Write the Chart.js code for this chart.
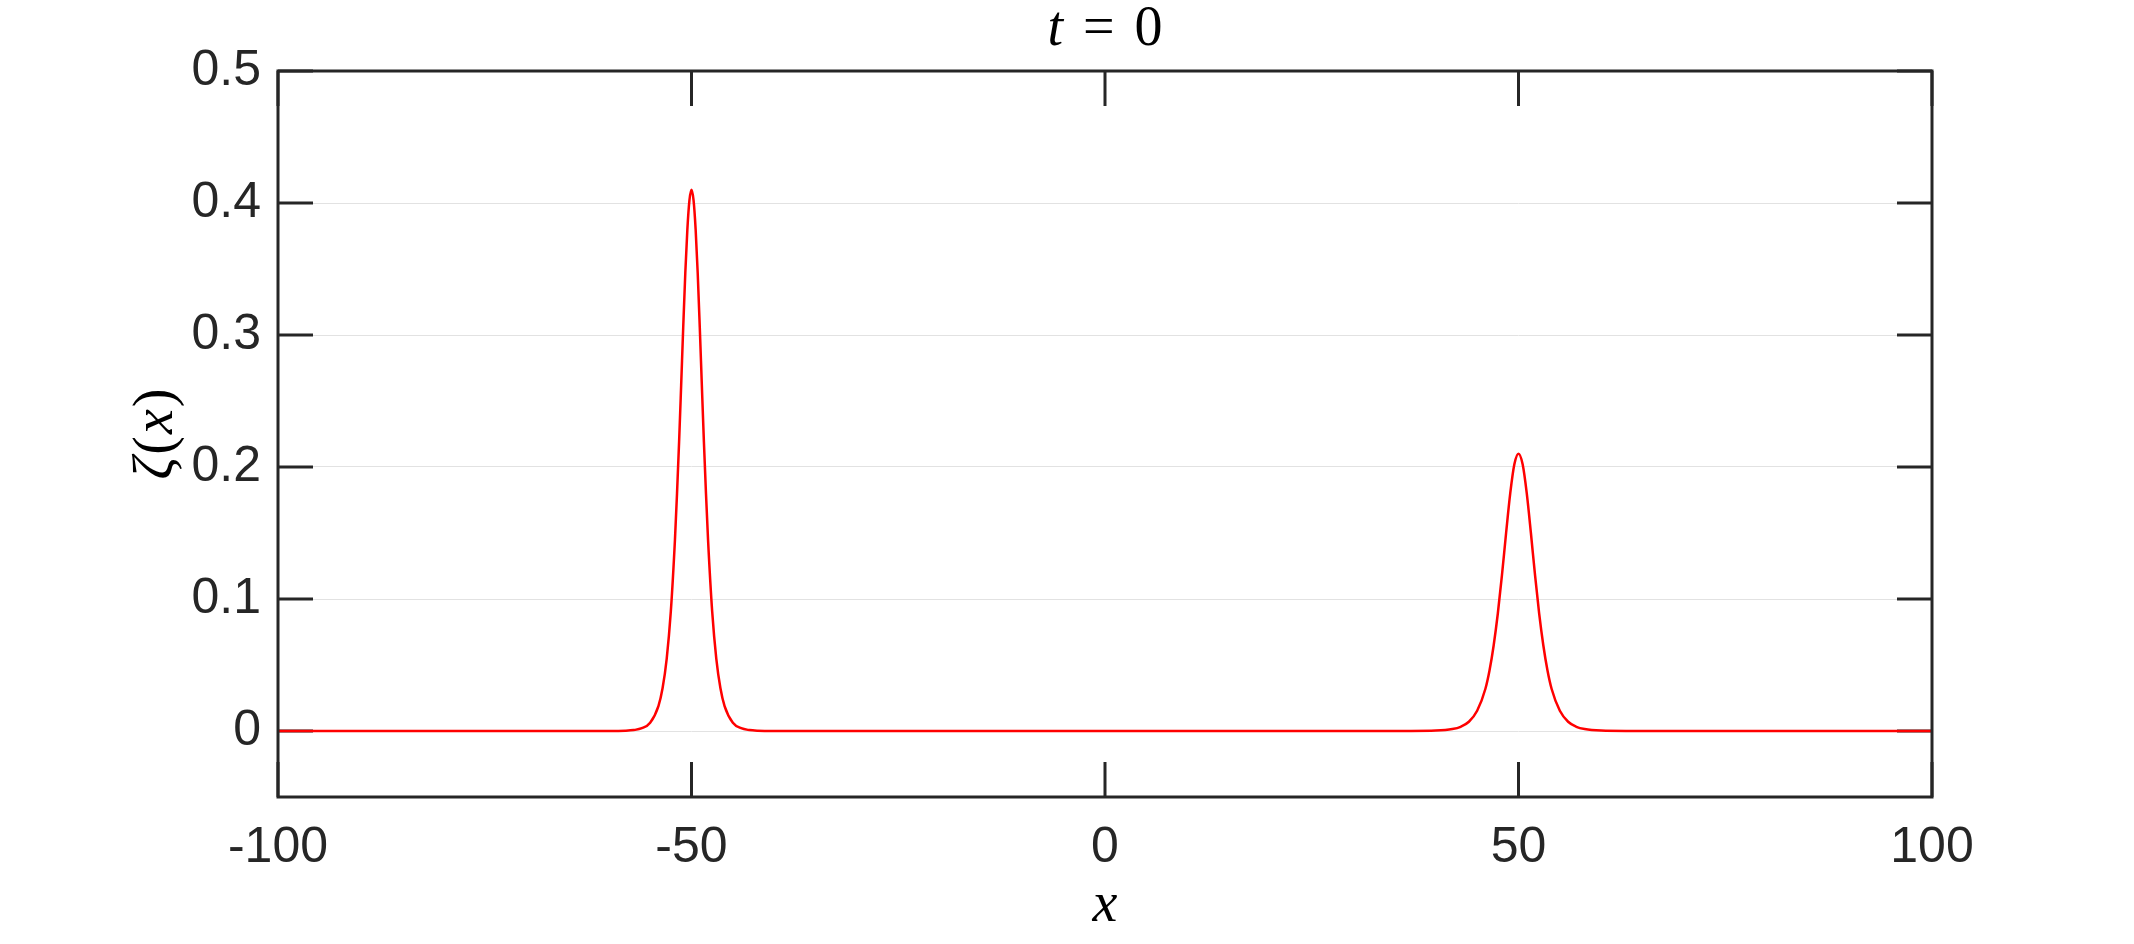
<!DOCTYPE html>
<html>
<head>
<meta charset="utf-8">
<script src="https://cdn.jsdelivr.net/npm/chart.js@4.4.1/dist/chart.umd.min.js"></script>
<style>
  html, body { margin: 0; padding: 0; background: #fff; }
</style>
</head>
<body>
<canvas id="chart" width="2134" height="944"></canvas>
<script>
// values (two solitary waves at x=-50 and x=50)
const xValues = [
  -100, -60, -58, -57, -56, -55, -54, -53.5, -53, -52.5, -52, -51.75, -51.5, -51.25,
  -51, -50.75, -50.5, -50.25, -50, -49.75, -49.5, -49.25, -49, -48.75, -48.5, -48.25,
  -48, -47.5, -47, -46.5, -46, -45, -44, -43, -42, -40,
  37, 40, 42, 43, 44, 45, 46, 46.5, 47, 47.5, 48, 48.5, 49, 49.5,
  50, 50.5, 51, 51.5, 52, 52.5, 53, 53.5, 54, 55, 56, 57, 58, 60, 63, 100
];
const zetaValues = [
  0, 0, 0.0002, 0.0007, 0.0021, 0.0063, 0.0189, 0.0324, 0.0547, 0.0906, 0.145, 0.180, 0.219, 0.262,
  0.306, 0.347, 0.380, 0.402, 0.410, 0.402, 0.380, 0.347, 0.306, 0.262, 0.219, 0.180,
  0.145, 0.0906, 0.0547, 0.0324, 0.0189, 0.0063, 0.0021, 0.0007, 0.0002, 0,
  0, 0.0003, 0.0015, 0.0032, 0.0070, 0.0153, 0.032, 0.046, 0.065, 0.089, 0.118, 0.150, 0.180, 0.202,
  0.210, 0.202, 0.180, 0.150, 0.118, 0.089, 0.065, 0.046, 0.032, 0.0153, 0.0070, 0.0032, 0.0015, 0.0003, 0, 0
];
const xTicks = [-100, -50, 0, 50, 100];
const yTicks = [0, 0.1, 0.2, 0.3, 0.4, 0.5];
// label pieces: [text, italic?]
const titleParts = [["t", true], ["=", false], ["0", false]];
const yLabelParts = [["ζ", true], ["(", false], ["x", true], [")", false]];
const xLabel = "x";

const axisColor = "#262626";
const tickLen = 35;
const serif = "'Liberation Serif', 'DejaVu Serif', serif";

function drawParts(ctx, parts, size, gap) {
  // draws the pieces centred on the current origin
  const fonts = parts.map((p) => (p[1] ? "italic " : "") + size + "px " + serif);
  const widths = parts.map((p, i) => { ctx.font = fonts[i]; return ctx.measureText(p[0]).width; });
  const total = widths.reduce((a, b) => a + b, 0) + gap * (parts.length - 1);
  let x = -total / 2;
  ctx.textBaseline = "alphabetic";
  ctx.textAlign = "left";
  parts.forEach((p, i) => {
    ctx.font = fonts[i];
    ctx.fillText(p[0], x, 0);
    x += widths[i] + gap;
  });
}

// matlab style box with inward ticks on all four sides, plus the mixed-style labels
const boxPlugin = {
  id: "box",
  beforeDatasetsDraw(chart) {
    const { ctx, chartArea: a, scales } = chart;
    ctx.save();
    ctx.strokeStyle = axisColor;
    ctx.lineWidth = 3;
    ctx.beginPath();
    xTicks.forEach((v) => {
      const px = scales.x.getPixelForValue(v);
      ctx.moveTo(px, a.top);
      ctx.lineTo(px, a.top + tickLen);
      ctx.moveTo(px, a.bottom);
      ctx.lineTo(px, a.bottom - tickLen);
    });
    yTicks.forEach((v) => {
      const py = scales.y.getPixelForValue(v);
      ctx.moveTo(a.left, py);
      ctx.lineTo(a.left + tickLen, py);
      ctx.moveTo(a.right, py);
      ctx.lineTo(a.right - tickLen, py);
    });
    ctx.stroke();
    ctx.restore();
  },
  afterDatasetsDraw(chart) {
    const { ctx, chartArea: a } = chart;
    ctx.save();
    ctx.strokeStyle = axisColor;
    ctx.lineWidth = 3;
    ctx.strokeRect(a.left, a.top, a.right - a.left, a.bottom - a.top);

    ctx.fillStyle = "#000";
    // title over the middle of the plot area
    ctx.save();
    ctx.translate((a.left + a.right) / 2, 45);
    drawParts(ctx, titleParts, 56, 20);
    ctx.restore();
    // rotated y label
    ctx.save();
    ctx.translate(172, (a.top + a.bottom) / 2);
    ctx.rotate(-Math.PI / 2);
    drawParts(ctx, yLabelParts, 56, 2);
    ctx.restore();
    ctx.restore();
  },
};

const chart = new Chart(document.getElementById("chart"), {
  type: "line",
  data: {
    datasets: [
      {
        data: xValues.map((x, i) => ({ x: x, y: zetaValues[i] })),
        borderColor: "#ff0000",
        borderWidth: 2.5,
        pointRadius: 0,
        fill: false,
        cubicInterpolationMode: "monotone",
      },
    ],
  },
  options: {
    responsive: false,
    animation: false,
    layout: { padding: { left: 0, right: 202, top: 71, bottom: 0 } },
    plugins: {
      legend: { display: false },
      tooltip: { enabled: false },
      title: { display: false },
    },
    scales: {
      x: {
        type: "linear",
        min: -100,
        max: 100,
        afterBuildTicks: (s) => { s.ticks = xTicks.map((v) => ({ value: v })); },
        afterFit: (s) => { s.height = 147; },
        grid: { display: false, drawTicks: false },
        border: { display: false },
        ticks: {
          color: axisColor,
          padding: 21,
          maxRotation: 0,
          font: { family: "Liberation Sans", size: 50 },
        },
        title: {
          display: true,
          text: xLabel,
          color: "#000",
          font: { family: "Liberation Serif", size: 56, style: "italic" },
          padding: { top: 0, bottom: 4 },
        },
      },
      y: {
        min: -0.05,
        max: 0.5,
        afterBuildTicks: (s) => { s.ticks = yTicks.map((v) => ({ value: v })); },
        afterFit: (s) => { s.width = 278; },
        grid: { color: "#e2e2e2", lineWidth: 1, drawTicks: false },
        border: { display: false },
        ticks: {
          color: axisColor,
          padding: 17,
          font: { family: "Liberation Sans", size: 50 },
        },
      },
    },
  },
  plugins: [boxPlugin],
});
</script>
</body>
</html>
